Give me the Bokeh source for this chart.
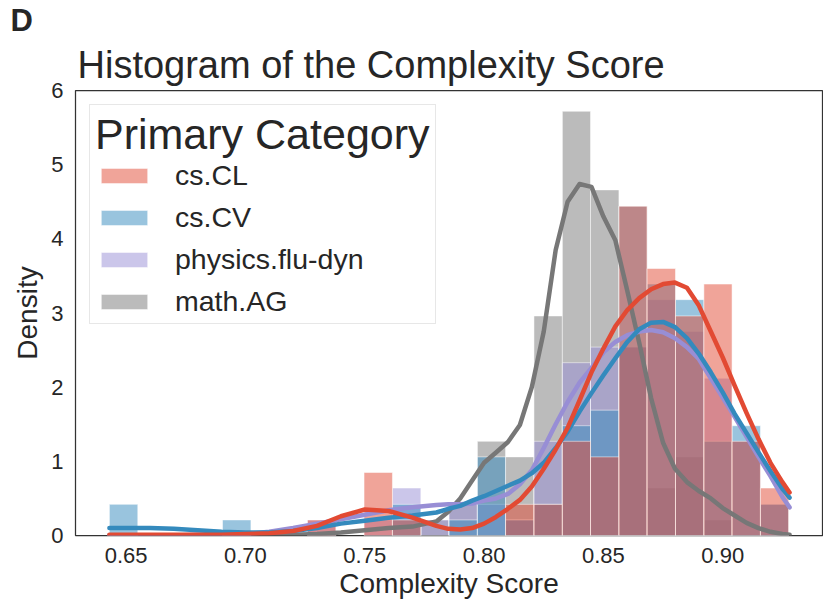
from bokeh.plotting import figure
from bokeh.models import Range1d, Legend, LegendItem, Title, FixedTicker, NumeralTickFormatter
from bokeh.embed import file_html
from bokeh.resources import INLINE

# ---------------- data ----------------
categories = ["cs.CL", "cs.CV", "physics.flu-dyn", "math.AG"]
colors = ["#E24A33", "#348ABD", "#988ED5", "#777777"]

bin_edges = [0.6430, 0.6549, 0.6667, 0.6786, 0.6904, 0.7023, 0.7142, 0.7260,
             0.7379, 0.7497, 0.7616, 0.7735, 0.7853, 0.7972, 0.8090, 0.8209,
             0.8328, 0.8446, 0.8565, 0.8683, 0.8802, 0.8921, 0.9039, 0.9158, 0.9276]

density_cs_CL = [0, 0, 0, 0, 0, 0, 0, 0.21, 0, 0.85, 0.21, 0, 0, 0, 0.42, 0.42,
                 1.27, 1.06, 4.44, 3.60, 2.96, 3.39, 1.27, 0.64]
density_cs_CV = [0.42, 0, 0, 0, 0.21, 0, 0, 0, 0, 0, 0.42, 0, 0.21, 1.06, 0.21, 0.42,
                 1.48, 1.69, 4.44, 3.39, 3.18, 1.27, 1.48, 0.42]
density_physics = [0, 0, 0, 0, 0, 0, 0, 0.21, 0, 0.21, 0.64, 0.21, 0.42, 0.42, 0.21, 1.27,
                   2.33, 2.54, 2.54, 3.18, 2.75, 2.12, 1.27, 0.42]
density_math_AG = [0, 0, 0, 0, 0, 0, 0, 0, 0, 0, 0, 0.21, 0.42, 1.27, 1.06, 2.96,
                   5.72, 4.66, 2.54, 0.64, 1.06, 0.21, 0, 0]

kde_x = [0.643, 0.65, 0.66, 0.67, 0.68, 0.69, 0.70, 0.71, 0.72, 0.73, 0.74, 0.75, 0.76,
         0.77, 0.78, 0.785, 0.79, 0.795, 0.80, 0.805, 0.81, 0.815, 0.82, 0.825, 0.83,
         0.835, 0.84, 0.845, 0.85, 0.855, 0.86, 0.865, 0.87, 0.875, 0.88, 0.885, 0.89,
         0.895, 0.90, 0.905, 0.91, 0.915, 0.92, 0.925, 0.928]
kde_cs_CL = [0.01, 0.01, 0.01, 0.01, 0.01, 0.01, 0.02, 0.03, 0.06, 0.13, 0.26, 0.35, 0.33,
             0.24, 0.13, 0.09, 0.08, 0.10, 0.16, 0.25, 0.36, 0.48, 0.66, 0.90, 1.16,
             1.45, 1.82, 2.20, 2.52, 2.82, 3.04, 3.20, 3.32, 3.39, 3.41, 3.34, 3.10,
             2.75, 2.40, 2.02, 1.65, 1.30, 0.98, 0.72, 0.58]
kde_cs_CV = [0.10, 0.10, 0.10, 0.09, 0.07, 0.05, 0.04, 0.04, 0.06, 0.10, 0.16, 0.20, 0.24,
             0.27, 0.31, 0.36, 0.40, 0.47, 0.53, 0.60, 0.67, 0.74, 0.84, 0.98, 1.18,
             1.40, 1.67, 1.92, 2.16, 2.39, 2.61, 2.78, 2.87, 2.88, 2.81, 2.66, 2.45,
             2.20, 1.93, 1.64, 1.38, 1.12, 0.87, 0.63, 0.51]
kde_physics = [0.0, 0.0, 0.0, 0.0, 0.01, 0.01, 0.02, 0.05, 0.10, 0.16, 0.22, 0.28, 0.34,
               0.38, 0.41, 0.42, 0.42, 0.43, 0.47, 0.50, 0.56, 0.69, 0.88, 1.18, 1.50,
               1.80, 2.06, 2.26, 2.47, 2.61, 2.70, 2.75, 2.77, 2.74, 2.66, 2.54, 2.38,
               2.12, 1.86, 1.60, 1.33, 1.06, 0.80, 0.52, 0.38]
kde_math_AG = [0.0, 0.0, 0.0, 0.0, 0.0, 0.0, 0.0, 0.0, 0.01, 0.02, 0.04, 0.07, 0.10,
               0.12, 0.19, 0.32, 0.50, 0.74, 0.98, 1.12, 1.26, 1.49, 2.00, 2.75, 3.85,
               4.50, 4.74, 4.70, 4.30, 3.98, 3.30, 2.60, 1.85, 1.25, 0.90, 0.72, 0.60,
               0.50, 0.37, 0.27, 0.17, 0.10, 0.05, 0.02, 0.01]

x_ticks = [0.65, 0.70, 0.75, 0.80, 0.85, 0.90]
y_ticks = [0, 1, 2, 3, 4, 5, 6]

densities = [density_cs_CL, density_cs_CV, density_physics, density_math_AG]
kdes = [kde_cs_CL, kde_cs_CV, kde_physics, kde_math_AG]

FONT = "Liberation Sans"
TXT = "#262626"

p = figure(width=823, height=601, output_backend="svg", toolbar_location=None, title=None,
           x_range=Range1d(0.6288, 0.9418), y_range=Range1d(0, 6.0),
           min_border_left=75, min_border_right=1, min_border_top=86, min_border_bottom=66)

p.background_fill_color = "white"
p.border_fill_color = "white"
p.xgrid.visible = False
p.ygrid.visible = False
p.outline_line_color = "#333333"
p.outline_line_width = 1.25

# bars: drawn in reverse hue order (math.AG at the bottom)
bar_renderers = {}
for cat, col, dens in reversed(list(zip(categories, colors, densities))):
    left = [bin_edges[i] for i in range(len(dens)) if dens[i] > 0]
    right = [bin_edges[i + 1] for i in range(len(dens)) if dens[i] > 0]
    top = [d for d in dens if d > 0]
    r = p.quad(left=left, right=right, top=top, bottom=0,
               fill_color=col, fill_alpha=0.5,
               line_color="white", line_alpha=0.5, line_width=1)
    bar_renderers[cat] = r

for cat, col, k in reversed(list(zip(categories, colors, kdes))):
    p.line(kde_x, k, line_color=col, line_width=4.5, line_cap="round", line_join="round")

# axes
for ax in (p.xaxis, p.yaxis):
    ax.axis_line_color = None
    ax.major_tick_line_color = None
    ax.minor_tick_line_color = None
    ax.major_tick_out = 0
    ax.major_tick_in = 0
    ax.minor_tick_out = 0
    ax.minor_tick_in = 0
    ax.major_label_text_font = FONT
    ax.major_label_text_font_size = "22px"
    ax.major_label_text_color = TXT
    ax.axis_label_text_font = FONT
    ax.axis_label_text_font_size = "28px"
    ax.axis_label_text_font_style = "normal"
    ax.axis_label_text_color = TXT

p.xaxis.ticker = FixedTicker(ticks=x_ticks)
p.xaxis.formatter = NumeralTickFormatter(format="0.00")
p.xaxis.axis_label = "Complexity Score"
p.xaxis.major_label_standoff = 12
p.xaxis.axis_label_standoff = 2

p.yaxis.ticker = FixedTicker(ticks=y_ticks)
p.yaxis.axis_label = "Density"
p.yaxis.major_label_standoff = 12
p.yaxis.axis_label_standoff = 5

# titles (first added sits next to the frame)
main_title = Title(text="Histogram of the Complexity Score", text_font=FONT,
                   text_font_size="38px", text_font_style="normal", text_color=TXT,
                   align="left", offset=2, standoff=9)
p.add_layout(main_title, "above")
panel_title = Title(text="D", text_font=FONT, text_font_size="31px", text_font_style="bold",
                    text_color=TXT, align="left", offset=-65, standoff=0)
p.add_layout(panel_title, "above")

legend = Legend(items=[LegendItem(label=c, renderers=[bar_renderers[c]]) for c in categories],
                location="top_left", title="Primary Category")
legend.title_text_font = FONT
legend.title_text_font_size = "43px"
legend.title_text_font_style = "normal"
legend.title_text_color = TXT
legend.title_standoff = 0
legend.label_text_font = FONT
legend.label_text_font_size = "28.5px"
legend.label_text_color = TXT
legend.glyph_width = 58
legend.glyph_height = 19
legend.label_standoff = 22
legend.spacing = 9
legend.padding = 5
legend.margin = 14
legend.border_line_color = "#d0d0d0"
legend.border_line_width = 1
legend.background_fill_color = "white"
legend.background_fill_alpha = 0.8
p.add_layout(legend)

open("out.html", "w").write(file_html(p, INLINE))
